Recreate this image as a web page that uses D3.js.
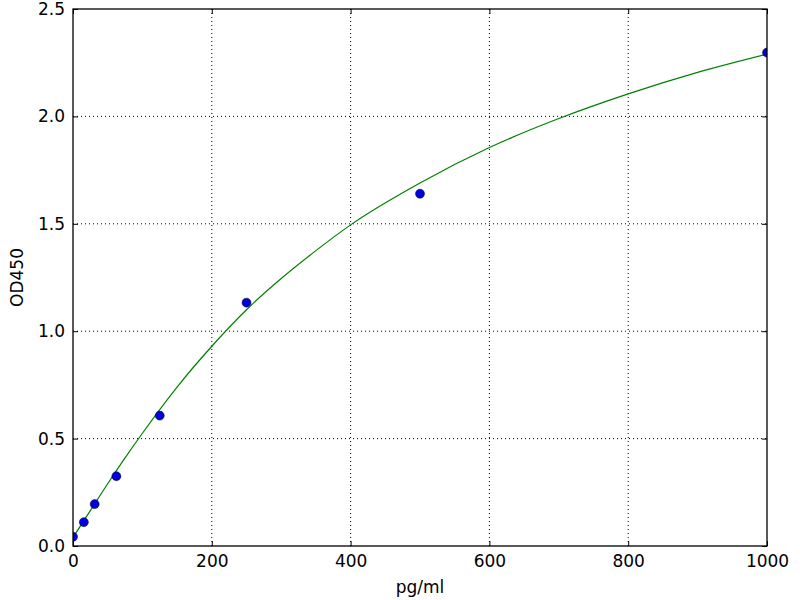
<!DOCTYPE html>
<html>
<head>
<meta charset="utf-8">
<script src="https://cdn.jsdelivr.net/npm/d3@7"></script>
<style>
  body { margin: 0; background: #fff; }
  text { font-family: "DejaVu Sans", sans-serif; }
</style>
</head>
<body>
<div id="chart"></div>
<script>
// Standard points (concentration, OD)
var conc = [0, 15.625, 31.25, 62.5, 125, 250, 500, 1000];
var od = [0.043, 0.111, 0.195, 0.325, 0.607, 1.133, 1.64, 2.297];

// Fitted curve
var fitX = [0, 25, 50, 75, 100, 150, 200, 250, 300, 350, 400, 500, 600, 700, 800, 900, 1000];
var fitY = [0.04, 0.165, 0.29, 0.41, 0.525, 0.74, 0.93, 1.10, 1.245, 1.375, 1.495, 1.69, 1.855, 1.99, 2.105, 2.205, 2.29];

var xTicks = [0, 200, 400, 600, 800, 1000];
var yTicks = [0.0, 0.5, 1.0, 1.5, 2.0, 2.5];

var svgWidth = 800;
var svgHeight = 600;

var margin = { top: 9, right: 33, bottom: 54, left: 73 };
var width = svgWidth - margin.left - margin.right;
var height = svgHeight - margin.top - margin.bottom;

var svg = d3.select("#chart")
  .append("svg")
  .attr("width", svgWidth)
  .attr("height", svgHeight);

var g = svg.append("g")
  .attr("transform", `translate(${margin.left}, ${margin.top})`);

var x = d3.scaleLinear().domain([0, 1000]).range([0, width]);
var y = d3.scaleLinear().domain([0, 2.5]).range([height, 0]);

// clip to plot area
svg.append("defs").append("clipPath")
  .attr("id", "clip")
  .append("rect")
  .attr("width", width)
  .attr("height", height);

// Grid lines (dotted)
g.append("g").selectAll("line.vx")
  .data(xTicks.slice(1, -1))
  .enter().append("line")
  .attr("x1", d => x(d)).attr("x2", d => x(d))
  .attr("y1", 0).attr("y2", height)
  .attr("stroke", "#000").attr("stroke-width", 1)
  .attr("stroke-dasharray", "1,3");
g.append("g").selectAll("line.hy")
  .data(yTicks.slice(1, -1))
  .enter().append("line")
  .attr("x1", 0).attr("x2", width)
  .attr("y1", d => y(d)).attr("y2", d => y(d))
  .attr("stroke", "#000").attr("stroke-width", 1)
  .attr("stroke-dasharray", "1,3");

// Fitted curve
var line = d3.line()
  .x(d => x(d[0]))
  .y(d => y(d[1]))
  .curve(d3.curveMonotoneX);

g.append("path")
  .datum(d3.zip(fitX, fitY))
  .attr("clip-path", "url(#clip)")
  .attr("d", line)
  .attr("fill", "none")
  .attr("stroke", "#008000")
  .attr("stroke-width", 1.2);

// Points
g.append("g")
  .attr("clip-path", "url(#clip)")
  .selectAll("circle")
  .data(d3.zip(conc, od))
  .enter().append("circle")
  .attr("cx", d => x(d[0]))
  .attr("cy", d => y(d[1]))
  .attr("r", 4.5)
  .attr("fill", "#0000e0")
  .attr("stroke", "#000")
  .attr("stroke-width", 0.5);

// Axes, ticks pointing inward
var bottomAxis = d3.axisBottom(x).tickValues(xTicks).tickSize(-5).tickPadding(9).tickFormat(d3.format("d"));
var leftAxis = d3.axisLeft(y).tickValues(yTicks).tickSize(-5).tickPadding(8).tickFormat(d3.format(".1f"));
var topAxis = d3.axisTop(x).tickValues(xTicks).tickSize(-5).tickFormat("");
var rightAxis = d3.axisRight(y).tickValues(yTicks).tickSize(-5).tickFormat("");

var gb = g.append("g").attr("transform", `translate(0, ${height})`).call(bottomAxis);
var gl = g.append("g").call(leftAxis);
var gt = g.append("g").call(topAxis);
var gr = g.append("g").attr("transform", `translate(${width}, 0)`).call(rightAxis);

[gb, gl, gt, gr].forEach(function(a) {
  a.select(".domain").remove();
  a.selectAll("line").attr("stroke", "#000");
  a.selectAll("text").attr("fill", "#000").style("font-size", "17px");
});

// frame
g.append("rect")
  .attr("width", width)
  .attr("height", height)
  .attr("fill", "none")
  .attr("stroke", "#000")
  .attr("stroke-width", 1.3);

// Axis labels
g.append("text")
  .attr("x", width / 2)
  .attr("y", height + 47)
  .attr("text-anchor", "middle")
  .style("font-size", "17px")
  .text("pg/ml");

g.append("text")
  .attr("transform", "rotate(-90)")
  .attr("x", -height / 2)
  .attr("y", -margin.left + 23)
  .attr("text-anchor", "middle")
  .style("font-size", "17px")
  .text("OD450");
</script>
</body>
</html>
